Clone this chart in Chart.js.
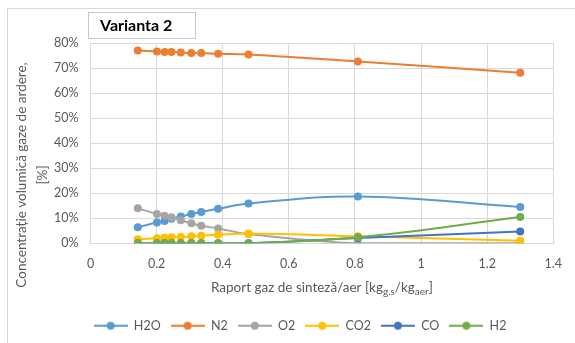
<!DOCTYPE html>
<html>
<head>
<meta charset="utf-8">
<script src="https://cdn.jsdelivr.net/npm/chart.js@4/dist/chart.umd.min.js"></script>
<style>
  html, body { margin: 0; padding: 0; background: #fff; }
  #wrap { position: relative; width: 575px; height: 343px; overflow: hidden; }
  #frame { position: absolute; left: 7px; top: 8px; width: 620px; height: 400px;
           border-top: 1px solid #d9d9d9; border-left: 1px solid #d9d9d9; }
  canvas { position: absolute; left: 0; top: 0; }
</style>
</head>
<body>
<div id="wrap">
  <div id="frame"></div>
  <canvas id="chart" width="575" height="343"></canvas>
</div>
<script>
// raport gaz de sinteza / aer [kg g.s / kg aer]
const ratio = [0.143, 0.201, 0.224, 0.245, 0.273, 0.305, 0.335, 0.386, 0.478, 0.809, 1.30];

// concentratie volumica [%]
const h2o = [6.4, 8.3, 8.9, 9.8, 10.7, 11.7, 12.5, 13.8, 15.9, 18.7, 14.5];
const n2  = [77.0, 76.6, 76.4, 76.4, 76.2, 76.0, 76.0, 75.7, 75.4, 72.6, 68.1];
const o2  = [14.0, 11.7, 11.0, 10.4, 9.2, 8.0, 7.0, 5.9, 3.7, 0, 0];
const co2 = [1.6, 2.0, 2.2, 2.4, 2.5, 2.8, 3.0, 3.4, 3.9, 2.8, 1.0];
const co  = [0, 0, 0, 0, 0, 0, 0, 0, 0, 2.1, 4.7];
const h2  = [0, 0, 0, 0, 0, 0, 0, 0, 0, 2.4, 10.5];

const seriesNames = ["H2O", "N2", "O2", "CO2", "CO", "H2"];
const seriesValues = [h2o, n2, o2, co2, co, h2];
const colors = ["#5B9BD5", "#ED7D31", "#A5A5A5", "#FFC000", "#4472C4", "#70AD47"];

const yTicks = [0, 10, 20, 30, 40, 50, 60, 70, 80];

const FONT = "Lato, 'Liberation Sans', sans-serif";
const GREY = "#595959";

// line + dot icon used in the legend (like Excel)
function legendIcon(color) {
    const c = document.createElement("canvas");
    c.width = 34;
    c.height = 10;
    const g = c.getContext("2d");
    g.strokeStyle = color;
    g.lineWidth = 2;
    g.beginPath();
    g.moveTo(0, 5);
    g.lineTo(34, 5);
    g.stroke();
    g.fillStyle = color;
    g.beginPath();
    g.arc(17, 5, 4, 0, Math.PI * 2);
    g.fill();
    return c;
}

const datasets = [];
seriesNames.forEach((name, i) => {
    datasets.push({
        label: name,
        data: ratio.map((x, j) => ({ x: x, y: seriesValues[i][j] })),
        borderColor: colors[i],
        backgroundColor: colors[i],
        borderWidth: 2,
        pointRadius: 4,
        pointBorderWidth: 0,
        tension: 0.4,
        order: seriesNames.length - i, // later series on top, like Excel
    });
});

const textPlugin = {
    id: "excelTexts",
    afterDraw(chart) {
        const ctx = chart.ctx;
        const area = chart.chartArea;
        ctx.save();

        // chart title in a box
        ctx.strokeStyle = "#c8c8c8";
        ctx.lineWidth = 1;
        ctx.strokeRect(88.5, 12.5, 107, 26);
        ctx.fillStyle = "#000";
        ctx.font = "bold 16px " + FONT;
        ctx.textAlign = "left";
        ctx.textBaseline = "middle";
        ctx.fillText("Varianta 2", 100, 26);

        // y axis title, two lines
        ctx.save();
        ctx.translate(22, 175);
        ctx.rotate(-Math.PI / 2);
        ctx.fillStyle = GREY;
        ctx.font = "13.5px " + FONT;
        ctx.textAlign = "center";
        ctx.fillText("Concentrație volumică gaze de ardere,", 0, 0);
        ctx.fillText("[%]", 0, 21);
        ctx.restore();

        // x axis title with subscripts
        const parts = [
            ["Raport gaz de sinteză/aer [kg", false],
            ["g.s", true],
            ["/kg", false],
            ["aer", true],
            ["]", false],
        ];
        const big = "13.5px " + FONT;
        const small = "10px " + FONT;
        let total = 0;
        parts.forEach((p) => {
            ctx.font = p[1] ? small : big;
            total += ctx.measureText(p[0]).width;
        });
        let x = (area.left + area.right) / 2 - total / 2;
        const y = 288;
        ctx.fillStyle = GREY;
        ctx.textAlign = "left";
        parts.forEach((p) => {
            ctx.font = p[1] ? small : big;
            ctx.fillText(p[0], x, p[1] ? y + 4 : y);
            x += ctx.measureText(p[0]).width;
        });

        ctx.restore();
    },
};

const chart = new Chart(document.getElementById("chart"), {
    type: "line",
    data: { datasets: datasets },
    options: {
        responsive: false,
        animation: false,
        devicePixelRatio: 1,
        layout: { padding: { left: 42, right: 17, top: 43, bottom: 1 } },
        scales: {
            x: {
                type: "linear",
                min: 0,
                max: 1.4,
                ticks: {
                    stepSize: 0.2,
                    color: GREY,
                    font: { family: FONT, size: 12.5 },
                    padding: 13,
                    callback: (v) => String(+v.toFixed(1)),
                },
                grid: { color: "#d9d9d9", drawTicks: false },
                border: { color: "#d9d9d9" },
                title: { display: true, text: "", font: { size: 13.5 }, padding: { top: 5, bottom: 4 } },
            },
            y: {
                min: 0,
                max: 80,
                afterBuildTicks: (axis) => {
                    axis.ticks = yTicks.map((v) => ({ value: v }));
                },
                ticks: {
                    color: GREY,
                    font: { family: FONT, size: 12.5 },
                    padding: 12,
                    callback: (v) => v + "%",
                },
                grid: { color: "#d9d9d9", drawTicks: false },
                border: { color: "#d9d9d9" },
            },
        },
        plugins: {
            legend: {
                position: "bottom",
                labels: {
                    usePointStyle: true,
                    pointStyleWidth: 34,
                    padding: 10,
                    color: GREY,
                    font: { family: FONT, size: 12.5 },
                    generateLabels: (ch) =>
                        ch.data.datasets.map((d, i) => ({
                            text: d.label,
                            fillStyle: d.borderColor,
                            strokeStyle: d.borderColor,
                            fontColor: GREY,
                            pointStyle: legendIcon(d.borderColor),
                            lineWidth: 0,
                            hidden: false,
                            datasetIndex: i,
                        })),
                },
            },
            title: { display: false },
            tooltip: { enabled: false },
        },
    },
    plugins: [textPlugin],
});
</script>
</body>
</html>
